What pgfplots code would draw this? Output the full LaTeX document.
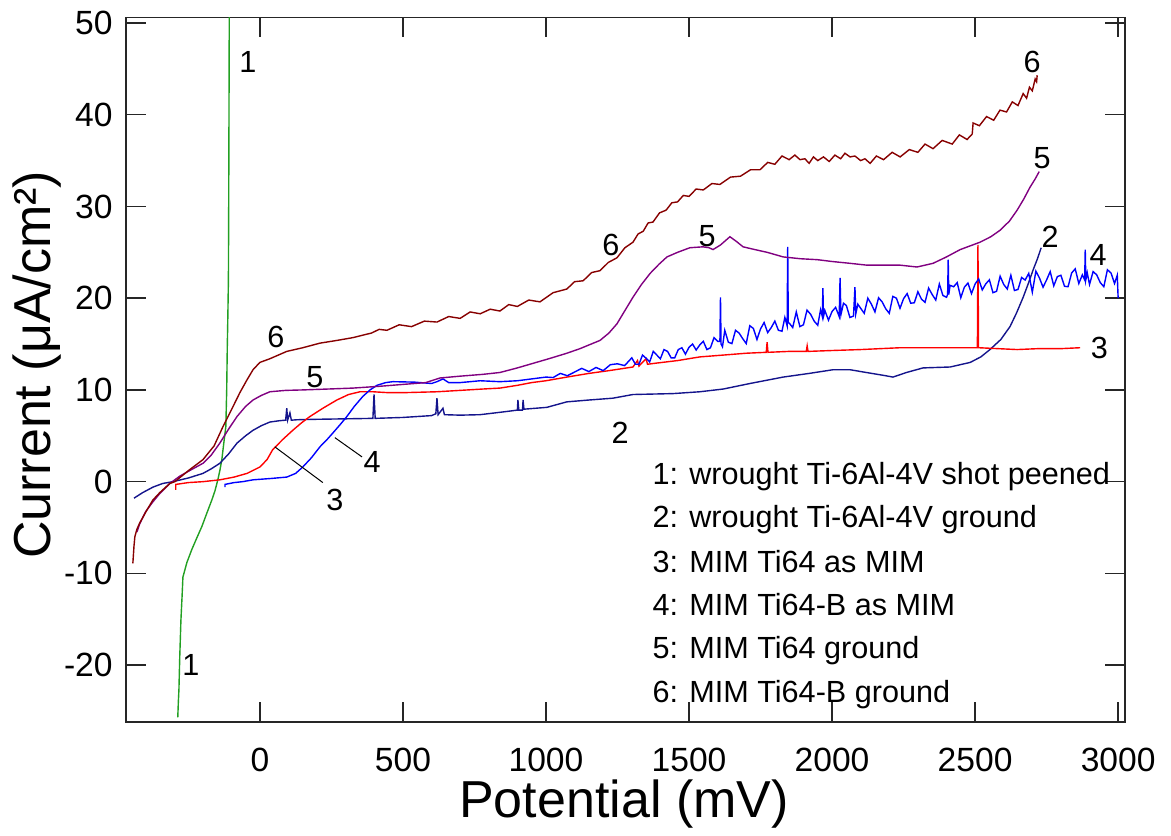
\documentclass[border=0pt]{standalone}
\usepackage{pgfplots}
\pgfplotsset{compat=1.18}
\usepackage{fontspec}
\setmainfont{Liberation Sans}
\definecolor{cgreen}{RGB}{34,160,34}
\definecolor{cnavy}{RGB}{20,20,140}
\definecolor{cred}{RGB}{255,0,0}
\definecolor{cblue}{RGB}{0,0,255}
\definecolor{cpurple}{RGB}{128,0,128}
\definecolor{cmaroon}{RGB}{135,0,0}
\begin{document}
\begin{tikzpicture}
\path[use as bounding box] (-63pt,-56.5pt) rectangle (522.5pt,361pt);
\begin{axis}[
  at={(0pt,0pt)}, anchor=south west,
  scale only axis, width=499.5pt, height=352.25pt,
  xmin=-468, xmax=3024, ymin=-26.2, ymax=50.6,
  xtick={0,500,...,3000}, ytick={-20,-10,...,50},
  tick align=inside, major tick length=10pt,
  axis line style={line width=0.75pt, black!85},
  every tick/.style={line width=0.75pt, black!85},
  /pgf/number format/assume math mode=true,
  /pgf/number format/1000 sep={},
  tick label style={font=\fontsize{16.8}{20}\selectfont},
  yticklabel style={inner sep=0pt, xshift=-6.5pt},
  xticklabel style={inner sep=0pt, anchor=center, yshift=-19pt},
  xlabel={Potential (mV)}, ylabel={Current (μA/cm²)},
  xlabel style={font=\fontsize{26}{30}\selectfont, inner sep=0pt, at={(axis description cs:0.4985,0)}, anchor=center, yshift=-41pt},
  ylabel style={font=\fontsize{26}{30}\selectfont, inner sep=0pt, at={(axis description cs:0,0.507)}, anchor=center, yshift=44.5pt},
  every axis plot/.style={line width=0.7pt},
]
% 1 green
\addplot[cgreen] coordinates {(-287,-25.7) (-285,-24) (-283,-22.7) (-280,-19) (-276,-15.1) (-272,-12.5) (-269,-10.4) (-255,-8.8) (-238,-7.4) (-220,-6.1) (-203,-4.9) (-185,-3.4) (-168,-2.0) (-157,-1.0) (-147,0.2) (-140,1.2) (-133,2.4) (-125,4.5) (-119,6) (-116,10) (-114,14.6) (-112,18) (-110,22) (-109,30) (-108,40) (-107,51)};
% 2 navy
\addplot[cnavy] coordinates {(-440,-1.8) (-410,-1.2) (-374,-0.6) (-340,-0.2) (-304,0) (-250,0.4) (-199,0.9) (-170,1.4) (-140,2.0) (-110,3.0) (-80,4.2) (-50,5.0) (-24,5.6) (5,6.1) (35,6.5) (70,6.65) (90,6.7) (94,8.0) (97,6.7) (105,7.5) (110,6.7) (130,6.75) (200,6.8) (300,6.85) (395,6.9) (399,9.5) (403,6.9) (500,7.0) (600,7.2) (615,7.4) (619,9.1) (623,7.3) (640,8.0) (645,7.3) (700,7.25) (769,7.3) (850,7.6) (900,7.8) (902,8.9) (905,7.8) (918,7.8) (920,8.9) (923,7.9) (1003,8.1) (1073,8.7) (1150,8.9) (1234,9.1) (1304,9.5) (1444,9.6) (1538,9.8) (1620,10.1) (1713,10.7) (1829,11.4) (1920,11.8) (2003,12.2) (2063,12.2) (2120,11.9) (2178,11.6) (2213,11.4) (2260,11.9) (2318,12.4) (2413,12.5) (2483,13.0) (2520,13.6) (2552,14.4) (2590,15.5) (2622,16.9) (2645,18.4) (2668,20.1) (2686,21.6) (2703,23.1) (2718,24.3) (2731,25.5)};
% 3 red
\addplot[cred] coordinates {(-294,-0.9) (-294,-0.3) (-250,-0.1) (-199,0.0) (-140,0.2) (-90,0.5) (-45,0.9) (0,1.6) (25,2.4) (45,3.5) (80,4.6) (115,5.6) (145,6.4) (175,7.1) (220,8.0) (269,8.9) (310,9.5) (350,9.8) (395,9.8) (450,9.7) (500,9.7) (560,9.75) (619,9.8) (700,9.95) (780,10.1) (839,10.2) (900,10.5) (950,10.8) (1000,11.0) (1073,11.4) (1150,11.8) (1220,12.1) (1304,12.5) (1320,13.2) (1325,12.6) (1350,13.4) (1355,12.8) (1380,12.9) (1460,13.2) (1538,13.6) (1620,13.8) (1700,14.0) (1770,14.1) (1773,15.2) (1776,14.1) (1850,14.2) (1910,14.2) (1913,14.8) (1916,14.2) (2003,14.3) (2100,14.4) (2238,14.6) (2350,14.6) (2450,14.6) (2508,14.6) (2510,25.8) (2512,14.6) (2580,14.5) (2647,14.4) (2720,14.5) (2800,14.5) (2867,14.6)};
% 4 blue
\addplot[cblue] coordinates {(-122,-0.6) (-122,-0.3) (-90,-0.1) (-60,0.0) (-24,0.2) (40,0.35) (94,0.5) (125,0.9) (150,1.6) (180,2.6) (210,3.8) (235,4.6) (255,5.3) (280,6.2) (304,7.1) (330,8.2) (360,9.3) (385,10.0) (409,10.5) (440,10.8) (465,10.9) (540,10.85) (600,10.7) (619,10.9) (640,11.2) (660,10.8) (700,10.8) (770,11.0) (839,10.9) (900,11.0) (950,11.2)
(1000,11.4) (1025,11.35) (1050,11.8) (1075,11.55) (1100,11.95) (1125,12.35) (1150,12.0) (1175,12.45) (1200,12.1) (1225,12.75) (1250,12.85) (1275,12.65)
(1300,13.5) (1312.5,12.8) (1325,12.8) (1337.5,13.8) (1350,13.45) (1362.5,13.05) (1375,14.2) (1387.5,13.8) (1400,13.4) (1412.5,14.4) (1425,14.2) (1437.5,13.5) (1450,13.5) (1462.5,14.4) (1475,14.6) (1487.5,13.9) (1500,14.65) (1512.5,15.0) (1525,14.35) (1537.5,14.9) (1550,15.3) (1562.5,14.4) (1575,14.6) (1587.5,15.7) (1600,15.3) (1608,15.3) (1610,20.1) (1612,15.0) (1617,14.7) (1625,16.5) (1637.5,15.2) (1650,15.05) (1662.5,16.5) (1675,16.2) (1687.5,15.6) (1700,15.05) (1712.5,17.0) (1725,16.7) (1737.5,15.5) (1750,16.65) (1762.5,17.35) (1775,16.25) (1787.5,16.8) (1800,17.5) (1812.5,16.5) (1825,16.4) (1835,17.9) (1843,17.0) (1845,25.6) (1847,17.3) (1850,17.3) (1862.5,16.8) (1875,18.5) (1887.5,16.9) (1900,17.1) (1912.5,18.7) (1925,18.25) (1937.5,17.5) (1950,17.05) (1960,18.75) (1966,18.0) (1968,21.1) (1970,18.0) (1975,18.65) (1987.5,17.6) (2000,18.55) (2012.5,19.0) (2025,18.0) (2028,22.2) (2031,18.2) (2040,19.45) (2050,19.2) (2062.5,17.9) (2075,18.05) (2080,21.2) (2083,18.3) (2090,19.35) (2100,18.9) (2112.5,18.35) (2125,20.0) (2137.5,19.35) (2150,18.5) (2162.5,20.05) (2175,19.6) (2187.5,18.85) (2200,18.35) (2212.5,20.2) (2225,20.0) (2237.5,18.9) (2250,19.95) (2262.5,20.5) (2275,19.45) (2287.5,19.5) (2300,20.7) (2312.5,19.9) (2325,19.55) (2337.5,21.1) (2350,20.4) (2362.5,19.8) (2375,21.55) (2387.5,20.3) (2400,20.1) (2404,20.4) (2406,24.2) (2408,20.4) (2412.5,21.4) (2425,21.25) (2437.5,21.7) (2450,20.05) (2462.5,21.2) (2475,21.65) (2487.5,20.5) (2500,21.55) (2512.5,22.1) (2525,20.9) (2537.5,21.57) (2550,22.0) (2562.5,20.6) (2575,20.75) (2587.5,22.4) (2600,21.5) (2612.5,21.0) (2625,22.5) (2637.5,20.84) (2650,20.95) (2662.5,22.26) (2675,21.98) (2687.5,22.7) (2700,20.65) (2712.5,22.95) (2725,22.2) (2737.5,21.2) (2750,22.0) (2762.5,22.9) (2775,21.35) (2787.5,22.35) (2800,22.5) (2812.5,21.3) (2825,21.25) (2837.5,22.75) (2850,23.2) (2862.5,21.6) (2875,22.55) (2883,22.0) (2885,25.3) (2887,22.0) (2892,22.77) (2900,21.5) (2912.5,22.9) (2925,22.55) (2937.5,21.7) (2950,21.25) (2962.5,23.1) (2975,22.75) (2987.5,21.6) (2997,22.5) (3000,20.0)};
% 5 purple
\addplot[cpurple] coordinates {(-430,-5.5) (-420,-4.6) (-400,-3.3) (-374,-2.2) (-350,-1.3) (-315,-0.2) (-280,0.6) (-240,1.3) (-199,2.0) (-170,2.9) (-140,4.2) (-110,5.7) (-80,7.1) (-50,8.2) (-24,8.9) (5,9.4) (35,9.8) (90,9.95) (150,10.0) (240,10.1) (325,10.2) (420,10.4) (500,10.6) (580,10.8) (629,11.3) (700,11.5) (780,11.7) (839,11.9) (900,12.4) (955,12.9) (1010,13.4) (1073,14.0) (1119,14.5) (1189,15.4) (1220,16.2) (1248,17.2) (1275,18.6) (1304,20.1) (1334,21.5) (1364,22.7) (1395,23.7) (1423,24.5) (1460,25.0) (1503,25.5) (1549,25.6) (1570,25.5) (1584,25.3) (1610,25.8) (1643,26.7) (1665,26.2) (1689,25.6) (1730,25.3) (1773,25.0) (1829,24.5) (1890,24.3) (1948,24.2) (2000,24.0) (2063,23.8) (2122,23.6) (2180,23.6) (2238,23.6) (2297,23.4) (2353,23.8) (2400,24.5) (2448,25.3) (2517,26.1) (2555,26.7) (2587,27.4) (2620,28.4) (2647,29.6) (2670,30.8) (2692,32.1) (2710,33.0) (2724,33.8)};
% 6 maroon
\addplot[cmaroon] coordinates {(-444,-8.9) (-440,-7.0) (-437,-6.0) (-430,-5.2) (-420,-4.5) (-395,-3.1) (-374,-2.0) (-350,-1.2) (-315,-0.2) (-297,0) (-250,1.2) (-199,2.4) (-160,3.9) (-129,6.0) (-100,7.8) (-70,9.7) (-45,11.1) (-24,12.2) (0,13.0) (35,13.4) (94,14.2) (150,14.6) (210,15.1) (270,15.4) (325,15.7) (390,16.2) (417,16.6) (444,16.5) (487,17.1) (530,16.9) (575,17.5) (619,17.4) (660,18.0) (700,17.8) (735,18.5) (770,18.3) (805,18.8) (839,18.6) (870,19.3) (900,19.1) (940,19.8) (979,19.6) (1025,20.6) (1073,21.0) (1100,21.8) (1130,21.9) (1160,22.8) (1189,23.0) (1218,23.9) (1248,24.4) (1276,25.5) (1304,26.1) (1322,27.0) (1340,27.3) (1357,28.2) (1374,28.3) (1397,29.3) (1420,29.6) (1440,30.4) (1460,30.5) (1480,31.2) (1500,31.1) (1525,31.9) (1550,31.8) (1580,32.5) (1608,32.4) (1645,33.2) (1680,33.3) (1715,34.0) (1748,34.0) (1775,34.8) (1800,34.6) (1825,35.5) (1850,35.1) (1870,35.6) (1888,35.1) (1905,35.2) (1920,34.7) (1935,35.4) (1950,35.0) (1970,35.4) (1990,34.9) (2010,35.6) (2030,35.2) (2045,35.8) (2063,35.4) (2080,35.5) (2100,35.0) (2115,35.2) (2133,34.7) (2155,35.5) (2180,35.1) (2210,35.9) (2238,35.4) (2270,36.2) (2300,35.9) (2325,36.8) (2353,36.3) (2385,37.2) (2420,36.8) (2445,37.8) (2472,37.3) (2490,37.9) (2493,39.1) (2515,38.8) (2540,39.8) (2565,39.4) (2587,40.5) (2610,40.3) (2630,41.4) (2650,41.0) (2668,42.3) (2680,41.8) (2690,43.0) (2700,42.6) (2710,43.9) (2715,43.6) (2717,44.3)};
% curve labels
\begin{scope}[every node/.style={font=\fontsize{15.3}{18}\selectfont, inner sep=0pt}]
\node at (axis cs:-42,45.8) {1};
\node at (axis cs:-241,-20.0) {1};
\node at (axis cs:56,15.8) {6};
\node at (axis cs:192,11.4) {5};
\node at (axis cs:262,-2.0) {3};
\node at (axis cs:392,2.1) {4};
\node at (axis cs:1227,25.8) {6};
\node at (axis cs:1563,26.8) {5};
\node at (axis cs:1259,5.3) {2};
\node at (axis cs:2699,45.8) {6};
\node at (axis cs:2734,35.3) {5};
\node at (axis cs:2762,26.7) {2};
\node at (axis cs:2930,24.7) {4};
\node at (axis cs:2934,14.6) {3};
\node[anchor=base west] at (axis cs:1371,-0.36) {1: wrought Ti-6Al-4V shot peened};
\node[anchor=base west] at (axis cs:1371,-5.05) {2: wrought Ti-6Al-4V ground};
\node[anchor=base west] at (axis cs:1371,-9.85) {3: MIM Ti64 as MIM};
\node[anchor=base west] at (axis cs:1371,-14.54) {4: MIM Ti64-B as MIM};
\node[anchor=base west] at (axis cs:1371,-19.23) {5: MIM Ti64 ground};
\node[anchor=base west] at (axis cs:1371,-24.03) {6: MIM Ti64-B ground};
\end{scope}
\draw[black, line width=0.5pt] (axis cs:52,3.8) -- (axis cs:220,-0.1);
\draw[black, line width=0.5pt] (axis cs:262,4.8) -- (axis cs:357,2.7);
\end{axis}
\end{tikzpicture}
\end{document}
